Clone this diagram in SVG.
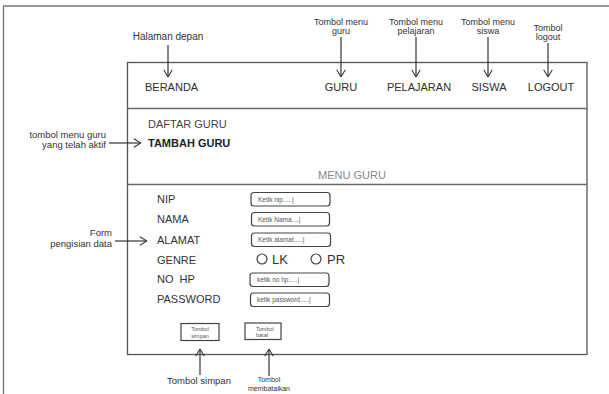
<svg xmlns="http://www.w3.org/2000/svg" width="609" height="394" viewBox="0 0 609 394">
  <style>
    text { font-family: "Liberation Sans", Arial, sans-serif; fill: #333; }
    .note { font-size: 9.5px; }
    .noteS { font-size: 9px; }
    .noteXS { font-size: 7px; }
    .menu { font-size: 11px; fill: #2e2e2e; }
    .label { font-size: 11px; fill: #333; }
    .hint { font-size: 6.5px; fill: #555; }
    .btn { font-size: 5.5px; fill: #555; }
    .frame { fill: none; stroke: #777; stroke-width: 1.3; }
    .box { fill: none; stroke: #555; stroke-width: 1.3; }
    .sep { fill: none; stroke: #666; stroke-width: 1.4; }
    .field { fill: #fff; stroke: #444; stroke-width: 1.2; }
    .radio { fill: none; stroke: #444; stroke-width: 1.2; }
    .arrow { fill: none; stroke: #333; stroke-width: 1.2; marker-end: url(#open); }
  </style>
  <defs>
    <marker id="open" viewBox="0 0 10 12" refX="10" refY="6" markerWidth="8" markerHeight="11" markerUnits="userSpaceOnUse" orient="auto">
      <path d="M1,0.6 L10,6 L1,11.4" fill="none" stroke="#333" stroke-width="1.3"/>
    </marker>
  </defs>

  <rect width="609" height="394" fill="#fff"/>

  <!-- page frame -->
  <path class="frame" d="M3.5,394 V6 H609"/>

  <!-- main window -->
  <g id="window">
    <rect class="box" x="127.5" y="62.5" width="459.5" height="292"/>
    <line class="sep" x1="127.5" y1="108.5" x2="587" y2="108.5"/>
    <line class="sep" x1="127.5" y1="184.5" x2="587" y2="184.5"/>
  </g>

  <!-- header menu -->
  <g id="menu-beranda"><text class="menu" x="145" y="91">BERANDA</text></g>
  <g id="menu-guru"><text class="menu" x="341" y="91" text-anchor="middle">GURU</text></g>
  <g id="menu-pelajaran"><text class="menu" x="419" y="91" text-anchor="middle">PELAJARAN</text></g>
  <g id="menu-siswa"><text class="menu" x="489" y="91" text-anchor="middle">SISWA</text></g>
  <g id="menu-logout"><text class="menu" x="551" y="91" text-anchor="middle">LOGOUT</text></g>

  <!-- side menu -->
  <g id="submenu">
    <text class="label" x="148" y="128" style="fill:#444">DAFTAR GURU</text>
    <text class="label" x="148" y="147" style="font-weight:bold;fill:#222">TAMBAH GURU</text>
    <text class="label" x="318" y="179" style="fill:#888">MENU GURU</text>
  </g>

  <!-- form -->
  <g id="form">
    <text class="label" x="157" y="203">NIP</text>
    <text class="label" x="157" y="223">NAMA</text>
    <text class="label" x="157" y="244">ALAMAT</text>
    <text class="label" x="157" y="264">GENRE</text>
    <text class="label" x="157" y="283" style="word-spacing:3px">NO HP</text>
    <text class="label" x="157" y="303">PASSWORD</text>

    <rect class="field" x="251" y="192.5" width="79" height="13.5" rx="3"/>
    <text class="hint" x="258" y="201.5">Ketik nip.....|</text>
    <rect class="field" x="251.5" y="212.5" width="78" height="13.5" rx="3"/>
    <text class="hint" x="258" y="221.5">Ketik Nama....|</text>
    <rect class="field" x="251.5" y="233" width="79" height="13.5" rx="3"/>
    <text class="hint" x="258" y="242">Ketik alamat.....|</text>
    <rect class="field" x="250" y="273" width="79" height="13.5" rx="3"/>
    <text class="hint" x="257" y="282">ketik no hp.....|</text>
    <rect class="field" x="250.5" y="293" width="79" height="13.5" rx="3"/>
    <text class="hint" x="257" y="302">ketik password.....|</text>

    <circle class="radio" cx="262" cy="259" r="5"/>
    <text x="272" y="264" style="font-size:13px">LK</text>
    <circle class="radio" cx="316" cy="259" r="5"/>
    <text x="327" y="264" style="font-size:13px">PR</text>
  </g>

  <g id="btn-simpan">
    <rect class="field" x="181" y="323.5" width="38" height="17"/>
    <text class="btn" x="200" y="331" text-anchor="middle">Tombol</text>
    <text class="btn" x="200" y="337.5" text-anchor="middle">simpan</text>
  </g>
  <g id="btn-batal">
    <rect class="field" x="245" y="323" width="36" height="16.5"/>
    <text class="btn" x="256" y="330.5">Tombol</text>
    <text class="btn" x="256" y="337">batal</text>
  </g>

  <!-- annotations -->
  <g id="note-halaman"><text class="note" x="168" y="40" text-anchor="middle" style="font-size:10px">Halaman depan</text></g>
  <g id="note-guru">
    <text class="noteS" x="341" y="25" text-anchor="middle">Tombol menu</text>
    <text class="noteS" x="341" y="34" text-anchor="middle">guru</text>
  </g>
  <g id="note-pelajaran">
    <text class="noteS" x="416" y="25" text-anchor="middle">Tombol menu</text>
    <text class="noteS" x="416" y="34" text-anchor="middle">pelajaran</text>
  </g>
  <g id="note-siswa">
    <text class="noteS" x="488" y="25" text-anchor="middle">Tombol menu</text>
    <text class="noteS" x="488" y="34" text-anchor="middle">siswa</text>
  </g>
  <g id="note-logout">
    <text class="noteS" x="548" y="31" text-anchor="middle">Tombol</text>
    <text class="noteS" x="548" y="40" text-anchor="middle">logout</text>
  </g>
  <g id="note-aktif">
    <text class="note" x="106" y="137.5" text-anchor="end">tombol menu guru</text>
    <text class="note" x="106" y="148" text-anchor="end">yang telah aktif</text>
  </g>
  <g id="note-form">
    <text class="note" x="112" y="236" text-anchor="end">Form</text>
    <text class="note" x="112" y="246.5" text-anchor="end">pengisian data</text>
  </g>
  <g id="note-simpan"><text class="note" x="199" y="384" text-anchor="middle">Tombol simpan</text></g>
  <g id="note-batal">
    <text class="noteXS" x="269" y="382" text-anchor="middle">Tombol</text>
    <text class="noteXS" x="269" y="390.5" text-anchor="middle">membatalkan</text>
  </g>

  <!-- connectors -->
  <g id="connectors">
    <line class="arrow" x1="168" y1="45" x2="168" y2="77"/>
    <line class="arrow" x1="341" y1="37" x2="341" y2="77"/>
    <line class="arrow" x1="416" y1="37" x2="416" y2="77"/>
    <line class="arrow" x1="488" y1="37" x2="488" y2="77"/>
    <line class="arrow" x1="548" y1="43" x2="548" y2="77"/>
    <line class="arrow" x1="109" y1="143" x2="141" y2="143"/>
    <line class="arrow" x1="115" y1="241" x2="147" y2="241"/>
    <line class="arrow" x1="200" y1="375" x2="200" y2="349"/>
    <line class="arrow" x1="269" y1="376" x2="269" y2="349"/>
  </g>
</svg>
